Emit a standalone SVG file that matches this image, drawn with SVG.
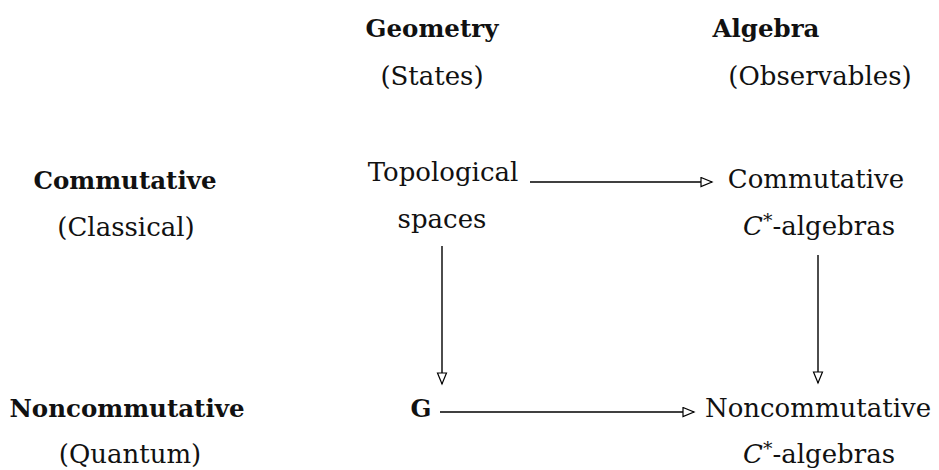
<svg xmlns="http://www.w3.org/2000/svg" width="939" height="470" viewBox="0 0 939 470">
<defs>
<marker id="tri" markerWidth="14" markerHeight="12" refX="12" refY="5.5" orient="auto" markerUnits="userSpaceOnUse">
<path d="M1,1 L12,5.5 L1,10 Z" fill="#fff" stroke="#000" stroke-width="1.2"/>
</marker>
<style>
text{font-family:"DejaVu Serif","Liberation Serif",serif;font-size:26px;fill:#111;text-anchor:middle}
.b{font-weight:bold;font-size:24.5px}
.m{font-style:italic}
.conn line{stroke:#000;stroke-width:1.4;marker-end:url(#tri)}
</style>
</defs>
<g id="col-geometry"><text class="b" x="432" y="37">Geometry</text><text x="432" y="85">(States)</text></g>
<g id="col-algebra"><text class="b" x="766" y="37">Algebra</text><text x="820" y="85">(Observables)</text></g>
<g id="row-commutative"><text class="b" x="125" y="189">Commutative</text><text x="126" y="236">(Classical)</text></g>
<g id="row-noncommutative"><text class="b" x="127" y="417">Noncommutative</text><text x="130" y="463">(Quantum)</text></g>
<g id="node-top"><text x="443" y="181">Topological</text><text x="442" y="228">spaces</text></g>
<g id="node-comm-c"><text x="816" y="188">Commutative</text><text x="819" y="235"><tspan class="m">C</tspan><tspan font-size="19" dy="-8">*</tspan><tspan dy="8">-algebras</tspan></text></g>
<g id="node-g"><text class="b" x="421" y="417">G</text></g>
<g id="node-nc-c"><text x="818" y="417">Noncommutative</text><text x="819" y="463"><tspan class="m">C</tspan><tspan font-size="19" dy="-8">*</tspan><tspan dy="8">-algebras</tspan></text></g>
<g class="conn" id="connectors">
<line x1="530" y1="182" x2="712" y2="182"/>
<line x1="442" y1="246" x2="442" y2="384"/>
<line x1="818" y1="255" x2="818" y2="383"/>
<line x1="440" y1="412" x2="694" y2="412"/>
</g>
</svg>
